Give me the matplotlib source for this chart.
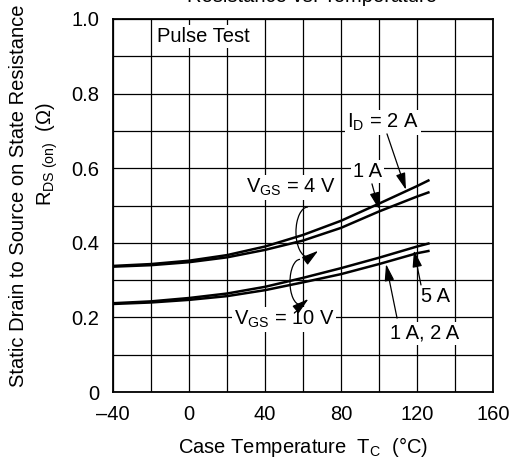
import matplotlib
matplotlib.use("Agg")
import matplotlib.pyplot as plt
from matplotlib.patches import Arc
import numpy as np

plt.rcParams['font.family'] = ['Liberation Sans', 'DejaVu Sans']
plt.rcParams['mathtext.fontset'] = 'custom'
plt.rcParams['mathtext.rm'] = 'Liberation Sans'
plt.rcParams['mathtext.it'] = 'Liberation Sans:italic'
plt.rcParams['font.size'] = 14.5

# datos
temp = [-40, -20, 0, 20, 40, 60, 80, 100, 120, 126]
r_4v_2a = [0.338, 0.343, 0.352, 0.367, 0.390, 0.421, 0.459, 0.505, 0.552, 0.567]
r_4v_1a = [0.336, 0.340, 0.348, 0.361, 0.381, 0.406, 0.440, 0.484, 0.524, 0.535]
r_10v_5a = [0.238, 0.243, 0.252, 0.264, 0.282, 0.306, 0.332, 0.360, 0.390, 0.398]
r_10v_1a2a = [0.236, 0.240, 0.247, 0.257, 0.273, 0.294, 0.316, 0.343, 0.372, 0.378]

xticks = [-40, 0, 40, 80, 120, 160]
xtick_labels = ["\u201340", "0", "40", "80", "120", "160"]
yticks = [0, 0.2, 0.4, 0.6, 0.8, 1.0]
ytick_labels = ["0", "0.2", "0.4", "0.6", "0.8", "1.0"]

W, H = 513, 459
fig = plt.figure(figsize=(W / 100, H / 100), dpi=100)
ax = fig.add_axes([113 / W, 1 - 392 / H, 380 / W, 373 / H])

# curvas
for serie in (r_4v_2a, r_4v_1a, r_10v_5a, r_10v_1a2a):
    ax.plot(temp, serie, color='black', lw=1.8, zorder=3)

ax.set_xlim(-40, 160)
ax.set_ylim(0, 1.0)
ax.set_xticks(xticks)
ax.set_xticklabels(xtick_labels)
ax.set_xticks(np.arange(-40, 161, 20), minor=True)
ax.set_yticks(yticks)
ax.set_yticklabels(ytick_labels)
ax.set_yticks(np.arange(0, 1.01, 0.1), minor=True)
ax.grid(which='both', color='black', lw=0.9)
ax.tick_params(which='both', length=0)
ax.tick_params(axis='x', pad=9)
ax.tick_params(axis='y', pad=10)
for s in ax.spines.values():
    s.set_linewidth(1.3)

caja = dict(fc='white', ec='none', pad=1.5)
flecha = dict(arrowstyle='-|>,head_length=0.7,head_width=0.2', color='black',
              lw=0.9, shrinkA=0, shrinkB=0)

ax.text(-17, 0.952, "Pulse Test", ha='left', va='center', bbox=caja, zorder=5)

# etiquetas de corriente
ax.text(102, 0.722, "I$_{\\rm D}$ = 2 A", ha='center', va='center', bbox=caja, zorder=5)
ax.annotate("", xy=(114.2, 0.542), xytext=(104.2, 0.692), arrowprops=flecha, zorder=6)
ax.text(94.2, 0.590, "1 A", ha='center', va='center', bbox=caja, zorder=5)
ax.annotate("", xy=(100, 0.490), xytext=(96.3, 0.558), arrowprops=flecha, zorder=6)
ax.text(129.5, 0.257, "5 A", ha='center', va='center', bbox=caja, zorder=5)
ax.annotate("", xy=(118.4, 0.380), xytext=(122.1, 0.287), arrowprops=flecha, zorder=6)
ax.text(124.2, 0.158, "1 A, 2 A", ha='center', va='center', bbox=caja, zorder=5)
ax.annotate("", xy=(103.7, 0.343), xytext=(109.5, 0.198), arrowprops=flecha, zorder=6)

# etiquetas de voltaje con flecha curva
ax.text(53.7, 0.548, "V$_{\\rm GS}$ = 4 V", ha='center', va='center', bbox=caja, zorder=5)
ax.text(50, 0.195, "V$_{\\rm GS}$ = 10 V", ha='center', va='center', bbox=caja, zorder=5)

for (cx, cy, w, h, t1) in [(62.6, 0.429, 12.6, 0.134, 55), (58.4, 0.295, 10.5, 0.121, 75)]:
    t2 = 290
    ax.add_patch(Arc((cx, cy), w, h, theta1=t1, theta2=t2, color='black', lw=0.9, zorder=4))
    th = np.deg2rad(t2)
    x0 = cx + w / 2 * np.cos(th)
    y0 = cy + h / 2 * np.sin(th)
    x1 = x0 + w / 2 * 0.55 * (-np.sin(th))
    y1 = y0 + h / 2 * 0.55 * np.cos(th)
    ax.annotate("", xy=(x1, y1), xytext=(x0, y0), arrowprops=flecha, zorder=6)

# titulos de ejes
fig.text(303 / W, 1 - 453 / H, "Case Temperature  T$_{\\rm C}$  (\u00b0C)",
         ha='center', va='baseline')
fig.text(19 / W, 1 - 196 / H, "Static Drain to Source on State Resistance",
         rotation=90, ha='center', va='center')
fig.text(47 / W, 1 - 154 / H, "R$_{\\rm DS\\ (on)}$  (\u03a9)",
         rotation=90, ha='center', va='center')
# titulo cortado arriba, como en la imagen original
fig.text(312 / W, 1 - 1.5 / H, "Resistance vs. Temperature", ha='center', va='baseline')

fig.savefig("out.png", dpi=100)
